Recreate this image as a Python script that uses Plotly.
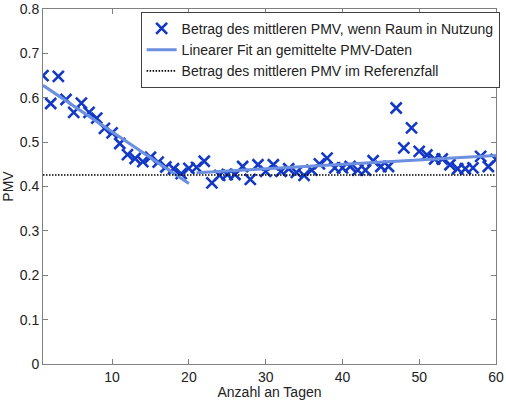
import plotly.graph_objects as go

# mittlerer PMV je Tag (Betrag)
days = list(range(1, 61))
pmv = [0.650, 0.587, 0.648, 0.596, 0.567, 0.588, 0.567, 0.554, 0.531, 0.521,
       0.497, 0.472, 0.463, 0.456, 0.466, 0.455, 0.444, 0.440, 0.429, 0.441,
       0.443, 0.457, 0.408, 0.425, 0.427, 0.427, 0.445, 0.416, 0.449, 0.434,
       0.449, 0.434, 0.440, 0.432, 0.425, 0.437, 0.451, 0.464, 0.442, 0.442,
       0.445, 0.437, 0.437, 0.458, 0.445, 0.445, 0.577, 0.487, 0.532, 0.479,
       0.471, 0.462, 0.462, 0.449, 0.440, 0.440, 0.442, 0.468, 0.445, 0.461]

# lineare Fits (zwei Abschnitte)
fit1_days = [1, 20]
fit1_vals = [0.628, 0.407]
fit2_days = [21, 60]
fit2_vals = [0.431, 0.470]

# Referenzfall
ref_days = [1, 60]
ref_vals = [0.426, 0.426]

y_ticks = [0, 0.1, 0.2, 0.3, 0.4, 0.5, 0.6, 0.7, 0.8]
x_ticks = [10, 20, 30, 40, 50, 60]

marker_blue = "#1238c4"
fit_blue = "#6d8fe0"
font_family = "Liberation Sans, Arial"

fig = go.Figure()

fig.add_trace(go.Scatter(
    x=days, y=pmv, mode="markers",
    name="Betrag des mittleren PMV, wenn Raum in Nutzung",
    marker=dict(symbol="x-thin", size=11, line=dict(width=2.6, color=marker_blue),
                color=marker_blue),
))
fig.add_trace(go.Scatter(
    x=fit1_days, y=fit1_vals, mode="lines",
    name="Linearer Fit an gemittelte PMV-Daten",
    line=dict(color=fit_blue, width=3),
    legendgroup="fit",
))
fig.add_trace(go.Scatter(
    x=fit2_days, y=fit2_vals, mode="lines",
    showlegend=False,
    line=dict(color=fit_blue, width=3),
    legendgroup="fit",
))
fig.add_trace(go.Scatter(
    x=ref_days, y=ref_vals, mode="lines",
    name="Betrag des mittleren PMV im Referenzfall",
    line=dict(color="black", width=1.6, dash="1.5px,1.5px"),
))

axis_style = dict(
    showline=True, linecolor="#808080", linewidth=1, mirror="ticks",
    ticks="inside", ticklen=5, tickcolor="#808080",
    showgrid=False, zeroline=False,
    tickfont=dict(family=font_family, size=14, color="#222"),
)

fig.update_xaxes(range=[1, 60], tickvals=x_ticks,
                 title=dict(text="Anzahl an Tagen", standoff=3,
                            font=dict(family=font_family, size=14, color="#222")),
                 **axis_style)
fig.update_yaxes(range=[0, 0.8], tickvals=y_ticks,
                 title=dict(text="PMV", standoff=4,
                            font=dict(family=font_family, size=14, color="#222")),
                 **axis_style)

fig.update_layout(
    width=506, height=400,
    margin=dict(l=43, r=10, t=9, b=36, autoexpand=False),
    paper_bgcolor="white", plot_bgcolor="white",
    font=dict(family=font_family, size=14, color="#222"),
    legend=dict(x=1.008, xanchor="right", y=0.992, yanchor="top",
                bgcolor="white", bordercolor="#404040", borderwidth=1,
                font=dict(size=14), tracegroupgap=0, itemwidth=30),
)

# Standardrand des Browsers entfernen, damit die Figur bei (0, 0) beginnt
fig.write_html("out.html", config={"displayModeBar": False},
               post_script="document.body.style.margin='0';")
